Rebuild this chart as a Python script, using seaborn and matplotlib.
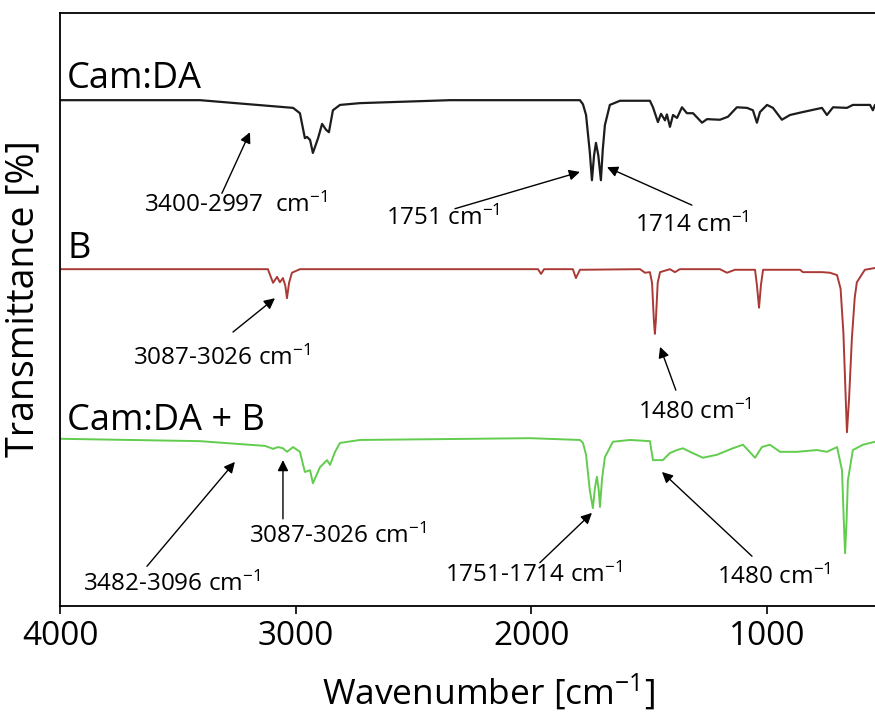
import matplotlib
matplotlib.use("Agg")
import matplotlib.pyplot as plt
import seaborn as sns
import pandas as pd

# ========== data: spectra (wavenumber, stacked transmittance) ==========
camda_wn = [4000, 3406, 3194, 3011, 2982, 2961, 2952, 2939, 2927, 2905, 2888, 2871, 2859, 2842,
            2812, 2727, 2345, 1794, 1781, 1768, 1752, 1743, 1734, 1726, 1716, 1705, 1697, 1688,
            1667, 1624, 1497, 1484, 1463, 1450, 1433, 1425, 1412, 1399, 1382, 1361, 1340, 1314,
            1276, 1255, 1200, 1166, 1128, 1085, 1060, 1043, 1030, 1000, 975, 937, 903, 848,
            767, 746, 720, 661, 636, 563, 551, 542]
camda_t = [85.3, 85.3, 84.6, 84.0, 83.1, 78.9, 79.1, 78.6, 76.4, 78.9, 81.3, 80.3, 79.9, 83.6,
           84.5, 84.8, 85.3, 85.3, 84.6, 82.8, 76.5, 71.8, 76.0, 78.1, 76.0, 71.8, 77.0, 81.1,
           84.5, 85.2, 85.2, 84.1, 81.6, 83.0, 81.9, 82.9, 80.8, 82.8, 82.3, 84.1, 83.1, 83.1,
           81.5, 82.1, 82.0, 82.5, 84.1, 84.0, 83.6, 81.5, 83.3, 84.5, 84.0, 82.0, 82.8, 83.3,
           84.0, 82.8, 84.1, 84.0, 84.5, 84.5, 83.6, 84.5]

b_wn = [4000, 3118, 3096, 3079, 3067, 3054, 3044, 3037, 3028, 3016, 2982, 2303, 1972, 1959,
        1946, 1824, 1811, 1794, 1539, 1518, 1497, 1488, 1480, 1476, 1472, 1464, 1454, 1412,
        1391, 1370, 1200, 1170, 1136, 1051, 1043, 1034, 1026, 1017, 860, 848, 767, 733, 703,
        688, 676, 668, 661, 652, 640, 628, 619, 585, 542]
b_t = [56.8, 56.8, 54.5, 55.5, 54.6, 55.3, 54.0, 51.9, 54.5, 56.2, 56.8, 56.8, 56.8, 56.0,
       56.8, 56.8, 55.3, 56.7, 56.8, 56.2, 56.3, 54.5, 48.0, 45.9, 48.0, 54.5, 56.3, 56.8,
       56.3, 56.8, 56.8, 56.2, 56.7, 56.7, 54.1, 50.3, 54.1, 56.7, 56.7, 56.3, 56.3, 56.2,
       55.8, 53.5, 46.0, 37.0, 29.3, 35.0, 45.2, 52.0, 54.6, 56.7, 57.0]

mix_wn = [4000, 3406, 3236, 3130, 3096, 3075, 3054, 3037, 3011, 2982, 2961, 2939, 2927, 2897,
          2867, 2854, 2833, 2812, 2727, 2006, 1794, 1781, 1768, 1752, 1739, 1730, 1722, 1714,
          1709, 1700, 1688, 1654, 1582, 1497, 1484, 1442, 1412, 1382, 1357, 1327, 1272, 1213,
          1145, 1102, 1051, 1022, 988, 945, 873, 788, 746, 703, 682, 675, 669, 663, 657, 636,
          593, 542]
mix_t = [28.2, 27.8, 27.3, 27.0, 26.5, 26.8, 26.6, 26.0, 26.8, 26.0, 22.6, 22.9, 20.7, 23.4,
         24.6, 23.8, 26.0, 27.5, 28.0, 28.3, 28.0, 27.5, 25.5, 19.5, 16.5, 20.0, 21.8, 19.5,
         16.7, 21.5, 25.1, 27.7, 28.0, 27.8, 24.6, 24.6, 25.8, 26.3, 26.6, 26.0, 25.0, 25.5,
         26.6, 27.2, 25.0, 26.8, 27.2, 26.0, 26.0, 26.3, 26.0, 26.8, 22.9, 15.0, 8.9, 14.0,
         21.2, 26.3, 27.2, 27.7]

series_names = ["Cam:DA", "B", "Cam:DA + B"]
series_colors = ["#1c1c1c", "#aa3a36", "#62cc4e"]
x_ticks = [4000, 3000, 2000, 1000]

# annotation text, text position, arrow tail, arrow tip (wavenumber, transmittance)
notes = [
    ("3400-2997  cm$^{-1}$", (3253, 67.6), (3313, 69.6), (3194, 79.9)),
    ("1751 cm$^{-1}$", (2375, 65.4), (2324, 67.0), (1794, 73.2)),
    ("1714 cm$^{-1}$", (1319, 64.2), (1319, 67.6), (1679, 74.0)),
    ("3087-3026 cm$^{-1}$", (3313, 41.8), (3266, 46.2), (3088, 51.9)),
    ("1480 cm$^{-1}$", (1306, 32.7), (1387, 36.4), (1454, 43.7)),
    ("3482-3096 cm$^{-1}$", (3525, 3.7), (3631, 6.7), (3258, 24.3)),
    ("3087-3026 cm$^{-1}$", (2821, 11.8), (3054, 14.7), (3054, 24.6)),
    ("1751-1714 cm$^{-1}$", (1993, 5.1), (1964, 7.3), (1743, 15.7)),
    ("1480 cm$^{-1}$", (971, 4.9), (1064, 8.4), (1446, 22.6)),
]
label_pos = [(3970, 87.4), (3970, 58.7), (3970, 29.7)]

# ========== style ==========
sns.set_style("ticks")
plt.rcParams["font.family"] = ["Open Sans", "DejaVu Sans"]
plt.rcParams["mathtext.fontset"] = "custom"
plt.rcParams["mathtext.rm"] = "Open Sans"
plt.rcParams["mathtext.default"] = "regular"
plt.rcParams["text.color"] = "black"
plt.rcParams["axes.labelcolor"] = "black"
plt.rcParams["xtick.color"] = "black"

fig = plt.figure(figsize=(8.75, 7.13), dpi=100)
ax = fig.add_axes([60 / 875, 107 / 713, 815 / 875, 593 / 713])

frames = [
    pd.DataFrame({"wn": camda_wn, "t": camda_t}),
    pd.DataFrame({"wn": b_wn, "t": b_t}),
    pd.DataFrame({"wn": mix_wn, "t": mix_t}),
]
widths = [1.6, 1.4, 1.4]
for df, color, lw in zip(frames, series_colors, widths):
    sns.lineplot(data=df, x="wn", y="t", sort=False, color=color, lw=lw, ax=ax)

for name, (x, y) in zip(series_names, label_pos):
    ax.text(x, y, name, fontsize=26, va="baseline", ha="left", color="black")

for txt, tpos, tail, tip in notes:
    ax.text(tpos[0], tpos[1], txt, fontsize=17.5, ha="center", va="center")
    ax.annotate("", xy=tip, xytext=tail,
                arrowprops=dict(arrowstyle="-|>", color="black", lw=1.0,
                                mutation_scale=16, shrinkA=0, shrinkB=0))

ax.set_xlim(4000, 542)
ax.set_ylim(0, 100)
ax.set_xticks(x_ticks)
ax.set_yticks([])
ax.tick_params(axis="x", direction="out", length=6, width=1.2, labelsize=24, pad=4)
ax.set_xlabel("Wavenumber [cm$^{-1}$]", fontsize=25.5)
ax.set_ylabel("Transmittance [%]", fontsize=27)
ax.xaxis.set_label_coords(0.526, -0.11)
ax.yaxis.set_label_coords(-0.022, 0.518)
for side in ["left", "top", "bottom"]:
    ax.spines[side].set_linewidth(1.3)
    ax.spines[side].set_color("black")
ax.spines["right"].set_visible(False)

fig.savefig("out.png", dpi=100)
